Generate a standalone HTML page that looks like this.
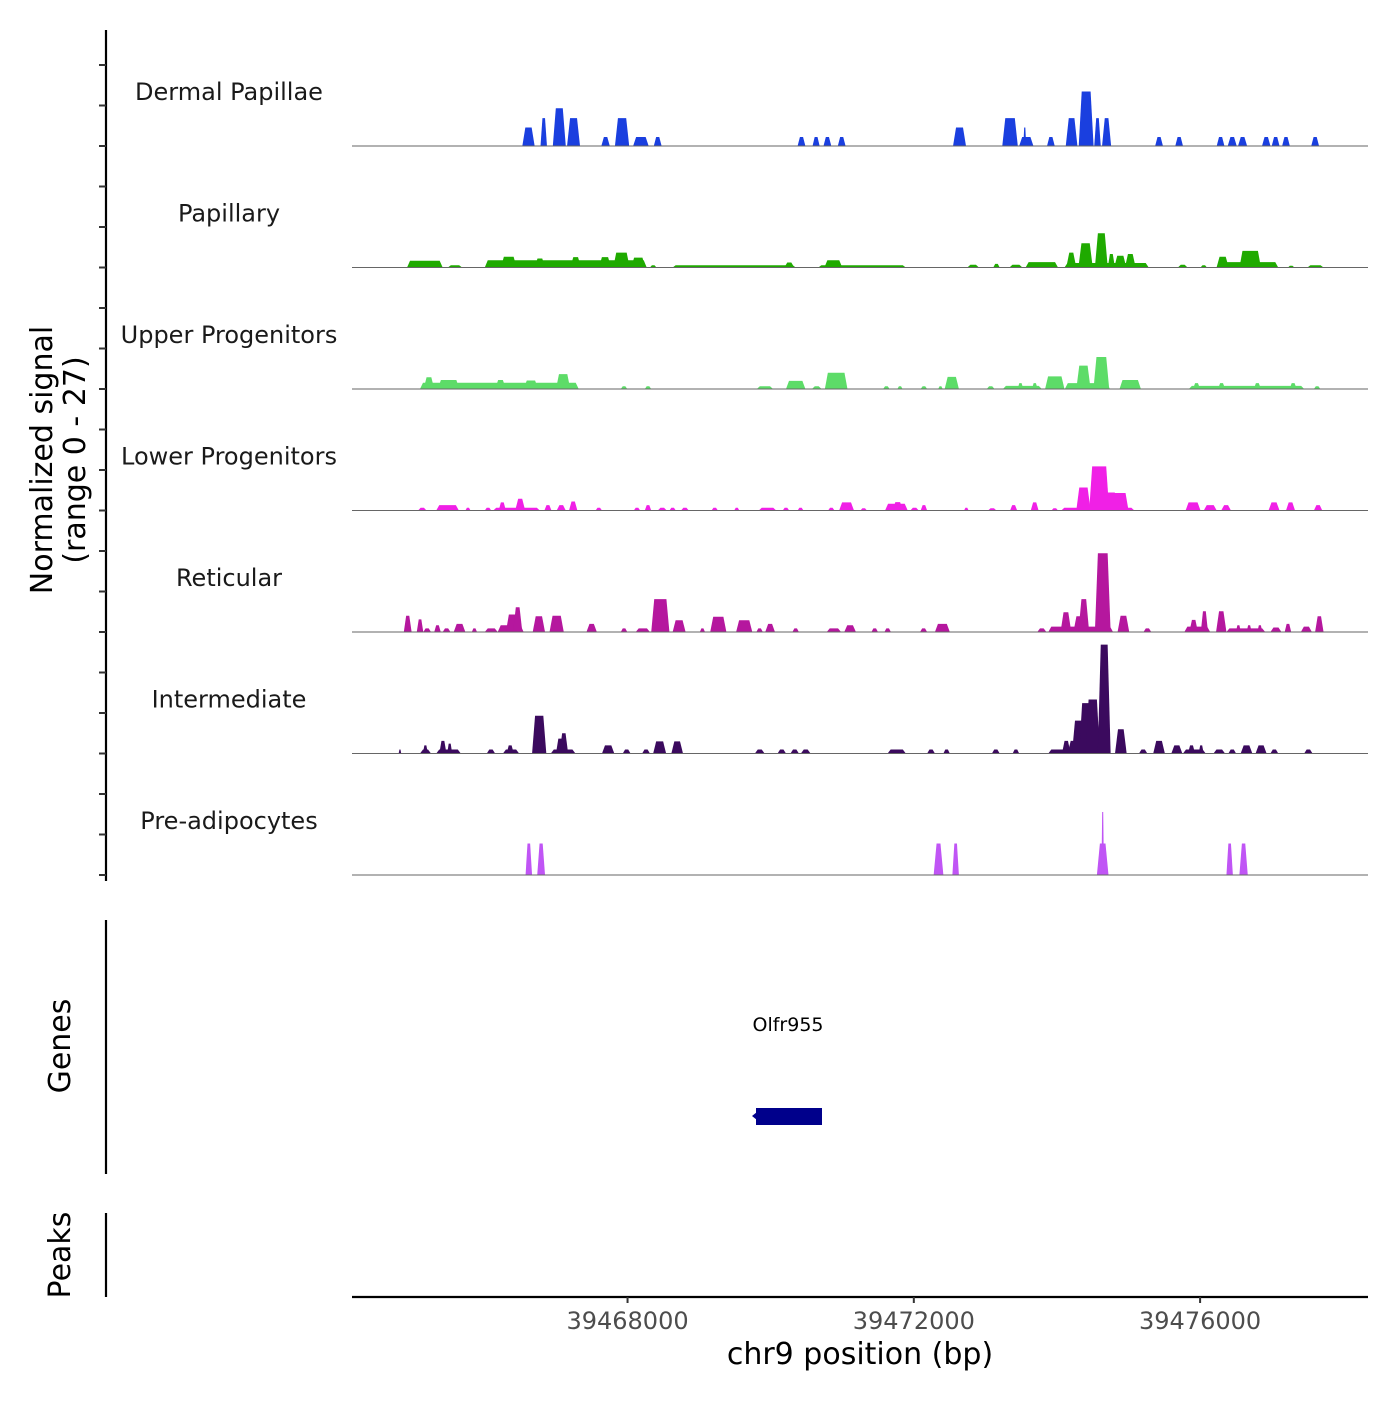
<!DOCTYPE html>
<html><head><meta charset="utf-8"><style>
body{margin:0;background:#fff;}
svg text{font-family:"DejaVu Sans","Liberation Sans",sans-serif;}
</style></head><body>
<svg id="chart" width="1400" height="1400" viewBox="0 0 1400 1400" xmlns="http://www.w3.org/2000/svg">
<g id="tracks"></g>
<g id="axes"></g>
</svg>
<script>
// genomic region (bp)
const regionStart = 39464150;
const regionEnd = 39478346;
const xTicks = [39468000, 39472000, 39476000];
const xTickLabels = ["39468000", "39472000", "39476000"];
const yMax = 27;
const trackNames = ["Dermal Papillae","Papillary","Upper Progenitors","Lower Progenitors","Reticular","Intermediate","Pre-adipocytes"];
const trackColors = ["#1a3fdf","#1faa00","#5ddc68","#f020e6","#b5179e","#3b0a5e","#c055f5"];
// blocks per track: [startOffsetBp, endOffsetBp, normalizedSignal] (offsets from regionStart)
const dermalPapillae = [[2380,2552,4.1],[2634,2724,6.2],[2806,2987,8.4],[3005,3186,6.2],[3484,3602,2],[3674,3873,6.2],[3928,4145,2],[4217,4326,2],[6226,6335,2],[6435,6534,2],[6588,6697,2],[6788,6896,2],[8398,8579,4.1],[9086,9303,6.2],[9322,9521,2],[9380,9420,4.1],[9711,9819,2],[9973,10136,6.2],[10154,10362,12.1],[10371,10462,6.2],[10480,10607,6.2],[11222,11331,2],[11503,11611,2],[12082,12190,2],[12236,12362,2],[12380,12507,2],[12715,12833,2],[12851,12960,2],[12996,13104,2],[13403,13512,2]];
const papillary = [[769,1267,1.5],[1339,1539,0.5],[1855,4118,1.6],[2080,2300,2.4],[2550,2700,2.0],[3050,3200,2.3],[3450,3620,2.3],[3650,3880,3.3],[3900,4100,2.2],[4163,4254,0.5],[4480,6200,0.5],[6040,6180,1.1],[6516,7738,0.5],[6600,6850,1.6],[8598,8760,0.6],[8960,9050,0.8],[9186,9367,0.6],[9412,9865,1.2],[9955,11132,1.0],[9980,10120,3.3],[10150,10350,5.4],[10380,10560,7.6],[10560,10660,3.0],[10650,10820,2.6],[10800,10950,3.0],[11539,11675,0.6],[11856,11946,0.5],[12082,12942,1.2],[12080,12250,2.4],[12400,12700,3.7],[13077,13168,0.4],[13349,13575,0.5]];
const upperProgenitors = [[950,3168,1.4],[1000,1150,2.6],[1200,1500,2.0],[2000,2150,2.0],[2400,2600,1.9],[2850,3050,3.3],[3756,3846,0.6],[4091,4181,0.6],[5656,5883,0.6],[6064,6335,1.8],[6426,6561,0.6],[6607,6923,3.6],[7421,7512,0.6],[7620,7693,0.6],[7946,8036,0.6],[8190,8254,0.6],[8281,8480,2.7],[8869,8978,0.6],[9095,9638,0.7],[9300,9380,1.3],[9500,9580,1.3],[9684,9955,2.8],[9960,10590,1.3],[10120,10320,5.2],[10360,10580,7.1],[10724,11023,2.0],[11693,13304,0.7],[11750,11850,1.3],[12100,12200,1.3],[12600,12700,1.3],[13100,13200,1.3],[13440,13530,0.6]];
const lowerProgenitors = [[923,1041,0.6],[1177,1493,1.2],[1584,1656,0.6],[1855,1946,0.6],[1973,2625,0.6],[2050,2150,1.8],[2280,2420,2.6],[2688,2787,1.2],[2860,2987,1.2],[3032,3149,2.0],[3403,3493,0.6],[3937,4027,0.6],[4091,4181,1.2],[4272,4398,0.6],[4435,4525,0.6],[4597,4706,0.6],[5023,5113,0.6],[5340,5412,0.6],[5683,5928,0.6],[6018,6109,0.6],[6226,6308,0.6],[6652,6742,0.6],[6806,7014,1.8],[7104,7195,0.5],[7448,7765,1.5],[7550,7700,1.85],[7801,7919,0.6],[7946,8036,1.2],[8552,8616,0.6],[8887,9005,0.5],[9195,9294,1.2],[9484,9593,1.8],[9774,9865,0.5],[9910,10932,0.6],[10120,10320,5.1],[10300,10580,9.8],[10400,10700,4.0],[10600,10850,3.9],[11647,11856,1.8],[11901,12082,1.2],[12145,12281,1.2],[12806,12960,1.8],[13050,13177,1.8],[13440,13557,1.2]];
const reticular = [[724,833,3.6],[905,996,2.8],[996,1104,0.8],[1149,1240,1.5],[1267,1376,0.8],[1421,1584,1.8],[1674,1747,0.8],[1855,2036,0.8],[2036,2398,1.5],[2150,2320,3.9],[2250,2380,5.5],[2525,2697,3.5],[2760,2959,3.6],[3276,3421,1.8],[3756,3846,0.8],[3964,4163,0.8],[4181,4435,7.3],[4480,4661,2.6],[4860,4932,0.8],[5005,5231,3.4],[5367,5593,2.6],[5650,5740,0.8],[5774,5910,1.8],[6154,6244,0.8],[6633,6833,0.8],[6878,7041,1.5],[7258,7349,0.8],[7439,7530,0.8],[7937,8036,0.8],[8145,8353,1.8],[9575,9702,0.8],[9729,10634,1.2],[9900,10050,4.4],[10080,10220,3.5],[10150,10300,7.3],[10380,10600,17.5],[10697,10860,3.6],[11059,11168,0.8],[11630,11991,1.2],[11700,11820,2.7],[11860,11960,4.6],[12073,12218,4.6],[12218,12760,0.8],[12350,12420,1.5],[12500,12570,1.5],[12650,12720,1.5],[12833,12987,1.0],[13032,13123,1.8],[13258,13412,1.2],[13457,13575,3.5]];
const intermediate = [[652,688,0.9],[950,1104,0.9],[990,1060,1.8],[1177,1520,0.9],[1220,1320,2.8],[1330,1400,2.2],[1883,2000,0.9],[2109,2335,0.9],[2160,2260,1.8],[2516,2715,8.4],[2778,3122,0.9],[2850,2960,3.3],[2900,3020,4.5],[3493,3665,1.8],[3783,3892,0.9],[4054,4163,0.9],[4208,4389,2.7],[4462,4625,2.7],[5629,5765,0.9],[5946,6064,0.9],[6127,6244,0.9],[6272,6407,0.9],[7484,7738,0.9],[8036,8145,0.9],[8263,8353,0.9],[8941,9050,0.9],[9231,9322,0.9],[9729,10000,0.9],[9920,10040,2.8],[10000,10300,2.8],[10060,10340,7.3],[10160,10400,11.2],[10250,10450,12.0],[10420,10600,24.2],[10661,10824,5.4],[10996,11113,0.9],[11195,11358,2.8],[11448,11602,1.8],[11611,11928,0.9],[11680,11780,1.8],[11830,11900,1.8],[12037,12199,0.9],[12245,12353,0.9],[12417,12580,1.8],[12625,12779,1.8],[12833,12942,0.9],[13304,13421,0.9]];
const preAdipocytes = [[2425,2516,7],[2588,2697,7],[8127,8263,7],[8389,8480,7],[10408,10570,7],[10471,10507,14],[12218,12308,7],[12399,12516,7]];
const trackData = [dermalPapillae,papillary,upperProgenitors,lowerProgenitors,reticular,intermediate,preAdipocytes];

const NS="http://www.w3.org/2000/svg";
const plotX0=352, plotX1=1368;
const trackTop0=24.5, trackH=121.5, trackPx=121.5;
function xScale(bp){return plotX0+(bp-regionStart)/(regionEnd-regionStart)*(plotX1-plotX0);}
function yScale(v,base){return base - v/yMax*trackPx;}
function mk(tag,attrs,parent){const e=document.createElementNS(NS,tag);for(const k in attrs)e.setAttribute(k,attrs[k]);parent.appendChild(e);return e;}

const tracksG=document.getElementById('tracks');
const axesG=document.getElementById('axes');
trackData.forEach((blocks,i)=>{
  const base=trackTop0+trackH*(i+1);
  const g=mk('g',{},tracksG);
  
  
  blocks.forEach(b=>{
    const s=regionStart+b[0], e=regionStart+b[1];
    const x0=xScale(s), x1=xScale(e);
    const sl=Math.min((x1-x0)*0.3,3);
    const yt=yScale(b[2],base);
    const p=mk('polygon',{points:`${x0},${base} ${x0+sl},${yt} ${x1-sl},${yt} ${x1},${base}`,fill:trackColors[i]},g);
    
    
  });
  const bl=mk('line',{x1:plotX0,x2:plotX1,y1:base,y2:base,stroke:'#666','stroke-width':1},g);
  
  
  const t=mk('text',{x:229,y:base-46,'text-anchor':'middle','font-size':24,fill:'#1a1a1a'},g);
  t.textContent=trackNames[i];
  
  
});
// left signal axis
const ax=mk('line',{x1:106,x2:106,y1:30,y2:881,stroke:'#000','stroke-width':2.2},axesG);


for(let k=1;k<=21;k++){
  const y=trackTop0+k*trackH/3;
  const tk=mk('line',{x1:99,x2:106,y1:y,y2:y,stroke:'#333','stroke-width':2},axesG);
  
  
}
const yt=mk('text',{transform:'translate(52,460) rotate(-90)','text-anchor':'middle','font-size':30,fill:'#000'},axesG);


yt.innerHTML='<tspan x="0" dy="0">Normalized signal</tspan><tspan x="0" dy="33">(range 0 - 27)</tspan>';
// genes panel
const ga=mk('line',{x1:106,x2:106,y1:920,y2:1174,stroke:'#000','stroke-width':2.2},axesG);


const gt=mk('text',{transform:'translate(70,1046) rotate(-90)','text-anchor':'middle','font-size':30,fill:'#000'},axesG);
gt.textContent='Genes';


const gl=mk('text',{x:788,y:1031,'text-anchor':'middle','font-size':19,fill:'#000'},axesG);
gl.textContent='Olfr955';


const gb=mk('rect',{x:756,y:1108,width:66,height:17,fill:'#00008b'},axesG);


const garr=mk('polygon',{points:'752,1116 757,1112 757,1120',fill:'#00008b'},axesG);


// peaks panel
const pa=mk('line',{x1:106,x2:106,y1:1213,y2:1297,stroke:'#000','stroke-width':2.2},axesG);


const pt=mk('text',{transform:'translate(70,1255) rotate(-90)','text-anchor':'middle','font-size':30,fill:'#000'},axesG);
pt.textContent='Peaks';


// x axis
const xa=mk('line',{x1:plotX0,x2:plotX1,y1:1297,y2:1297,stroke:'#000','stroke-width':2.2},axesG);


xTicks.forEach((v,i)=>{
  const x=xScale(v);
  const tk=mk('line',{x1:x,x2:x,y1:1297,y2:1303,stroke:'#333','stroke-width':2},axesG);
  
  
  const tl=mk('text',{x:x,y:1329,'text-anchor':'middle','font-size':24,fill:'#4d4d4d'},axesG);
  tl.textContent=xTickLabels[i];
  
  
});
const xt=mk('text',{x:860,y:1364,'text-anchor':'middle','font-size':30,fill:'#000'},axesG);
xt.textContent='chr9 position (bp)';


</script>
</body></html>
